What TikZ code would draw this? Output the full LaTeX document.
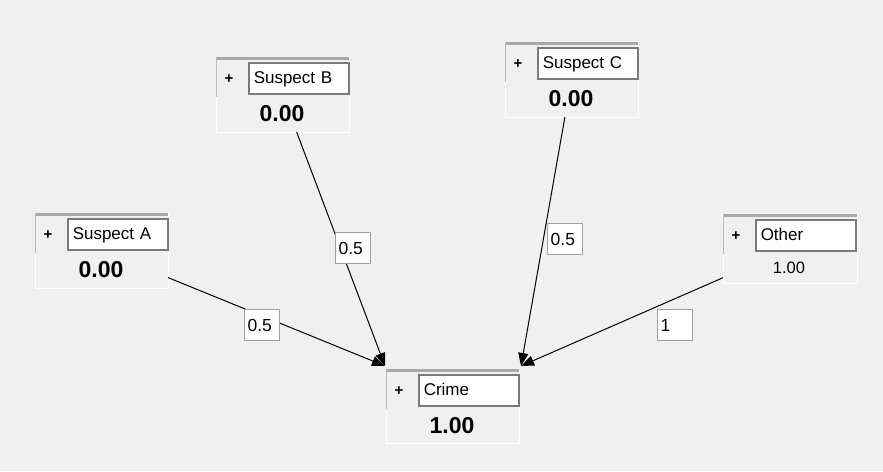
\documentclass[tikz,border=0pt]{standalone}
\usepackage{fontspec}
\setmainfont{Liberation Sans}
\usetikzlibrary{arrows.meta,calc}
\definecolor{bg}{HTML}{F0F0F0}
\definecolor{barc}{HTML}{A8A8A8}
\definecolor{nameborder}{HTML}{7A7A7A}
\definecolor{labborder}{HTML}{A0A0A0}
\tikzset{
  outerbox/.style={draw=white, line width=1pt, fill=bg, inner sep=0pt, outer sep=0pt},
  topbar/.style={draw=barc, line width=3pt},
  leftedge/.style={draw=barc!80, line width=1pt},
  namebox/.style={draw=nameborder, line width=1.5pt, fill=white, inner xsep=5pt, inner ysep=0pt,
     text width=90pt, minimum height=31pt, align=left, text depth=2pt,
     font=\fontsize{17pt}{19pt}\selectfont},
  plussign/.style={inner sep=0pt, font=\fontsize{15pt}{16pt}\selectfont\bfseries},
  bigval/.style={inner sep=0pt, font=\fontsize{23pt}{25pt}\selectfont\bfseries},
  smallval/.style={inner sep=0pt, font=\fontsize{16.5pt}{18pt}\selectfont},
  elabel/.style={draw=labborder, line width=1.3pt, fill=white, inner xsep=3pt, inner ysep=0pt,
     text width=29pt, minimum height=31pt, align=left,
     font=\fontsize{17.5pt}{19pt}\selectfont},
  edge/.style={draw=black, line width=1pt, -{Triangle[length=13pt,width=10pt]}}
}
% #1 name, #2 X, #3 Y, #4 width, #5 height, #6 label, #7 value style, #8 value, #9 value yshift
\newcommand\bnnode[9]{%
  \node[outerbox, minimum width=#4pt, minimum height=#5pt, anchor=north west] (#1) at (#2,#3) {};
  \draw[topbar] ([yshift=-1.5pt]#1.north west) -- ([yshift=-1.5pt]#1.north east);
  \draw[leftedge] (#1.north west) -- ([yshift=-40pt]#1.north west);
  \node[namebox, anchor=north west] (#1-name) at ([xshift=32pt,yshift=-5pt]#1.north west) {#6};
  \node[plussign] (#1-plus) at ([xshift=13pt,yshift=-22pt]#1.north west) {+};
  \node[#7] (#1-val) at ([xshift=66pt,yshift=-#9pt]#1.north west) {#8};
}
\begin{document}
\begin{tikzpicture}[x=1pt,y=-1pt]
\fill[bg] (0,0) rectangle (883,471);
\useasboundingbox (0,0) rectangle (883,471);

\bnnode{sa}{35}{213}{133}{75}{Suspect A}{bigval}{0.00}{57}
\bnnode{sb}{216}{57}{133}{75}{Suspect B}{bigval}{0.00}{57}
\bnnode{sc}{505}{42}{133}{75}{Suspect C}{bigval}{0.00}{57}
\bnnode{ot}{723}{214}{134}{69}{Other}{smallval}{1.00}{54}
\bnnode{cr}{386}{369}{133}{74}{Crime}{bigval}{1.00}{57}

\coordinate (crL) at ([xshift=-1pt,yshift=3pt]cr.north west);
\coordinate (crR) at ([xshift=2pt,yshift=3pt]cr.north east);

\draw[edge] (sa) -- (crL);
\draw[edge] (sb) -- (crL);
\draw[edge] (sc) -- (crR);
\draw[edge] (ot) -- (crR);

\node[elabel, anchor=north west] (la) at (244,309) {0.5};
\node[elabel, anchor=north west] (lb) at (335,232) {0.5};
\node[elabel, anchor=north west] (lc) at (547,223) {0.5};
\node[elabel, anchor=north west] (lo) at (657,309) {1};
\end{tikzpicture}
\end{document}
